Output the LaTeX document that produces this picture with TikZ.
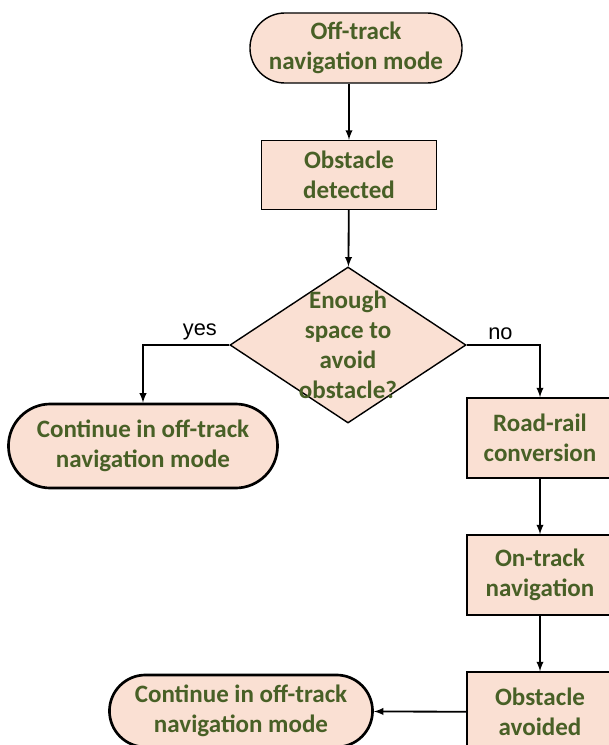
\documentclass[tikz,border=0pt]{standalone}
\usepackage{fontspec}
\setmainfont{Carlito}
\newfontfamily\yesnofont{Liberation Sans}
\usetikzlibrary{arrows,shapes.geometric,shapes.misc}
\definecolor{boxfill}{RGB}{250,224,211}
\definecolor{boxtext}{RGB}{72,96,38}
\tikzset{
	flowtext/.style={text=boxtext, font=\bfseries\fontsize{17.8}{21.3}\selectfont, align=center},
	terminal/.style={flowtext, draw, fill=boxfill, rounded rectangle, inner sep=0pt, line width=1pt},
	endterm/.style={terminal, line width=1.9pt},
	process/.style={flowtext, draw, fill=boxfill, rectangle, inner sep=0pt, line width=1pt},
	decision/.style={draw, fill=boxfill, diamond, inner sep=0pt, line width=1pt, minimum width=5.9cm, minimum height=3.9cm},
	flow/.style={-latex, line width=1.3pt},
	answer/.style={font=\yesnofont\fontsize{15.5}{18}\selectfont, above, inner sep=3pt},
}

\begin{document}
\begin{tikzpicture}[x=0.025cm, y=-0.025cm]
\useasboundingbox (0,0) rectangle (608,745);
\node[terminal, minimum width=5.3cm, minimum height=1.75cm] (start) at (356,48) {Off-track\\navigation mode};
\node[process, minimum width=4.375cm, minimum height=1.725cm] (detect) at (349,175) {Obstacle\\detected};
\node[decision, label={[flowtext]center:Enough\\space to\\avoid\\obstacle?}] (space) at (348,345) {};
\node[endterm, minimum width=6.725cm, minimum height=2.1cm] (offtrack) at (143,446) {Continue in off-track\\navigation mode};
\node[process, minimum width=3.65cm, minimum height=2cm] (convert) at (540,438) {Road-rail\\conversion};
\node[process, minimum width=3.65cm, minimum height=2cm] (ontrack) at (540,575) {On-track\\navigation};
\node[process, minimum width=3.65cm, minimum height=2cm] (avoided) at (540,712) {Obstacle\\avoided};
\node[endterm, minimum width=6.575cm, minimum height=1.8cm] (resume) at (241,711) {Continue in off-track\\navigation mode};

\draw[flow] (start.south -| detect.north) -- (detect.north);
\draw[flow] (detect) -- (space);
\draw[flow] (space.west) -| node[answer, pos=0.17] {yes} (offtrack.north);
\draw[flow] (space.east) -| node[answer, pos=0.23] {no} (convert.north);
\draw[flow] (convert) -- (ontrack);
\draw[flow] (ontrack) -- (avoided);
\draw[flow] (avoided) -- (resume);
\end{tikzpicture}
\end{document}
